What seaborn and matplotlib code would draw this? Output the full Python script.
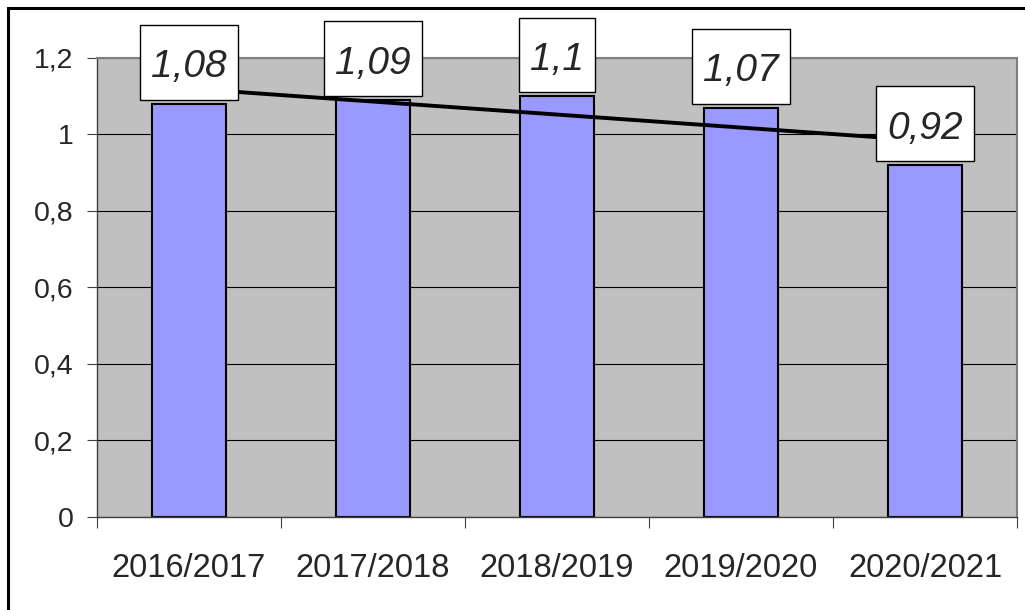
import numpy as np
import pandas as pd
import matplotlib
matplotlib.use("Agg")
import matplotlib.pyplot as plt
import seaborn as sns
from matplotlib.patches import Rectangle
from matplotlib.path import Path

# chart data
seasons = ["2016/2017", "2017/2018", "2018/2019", "2019/2020", "2020/2021"]
values = [1.08, 1.09, 1.1, 1.07, 0.92]
y_ticks = [0, 0.2, 0.4, 0.6, 0.8, 1.0, 1.2]
y_tick_labels = ["0", "0,2", "0,4", "0,6", "0,8", "1", "1,2"]

sns.set_style("white")
plt.rcParams["font.family"] = ["Liberation Sans", "DejaVu Sans"]


def label_box(x0, y0, width, height, mutation_size):
    # box with more room above the text than below, narrow at the sides
    px = 0.28 * mutation_size
    p_top = 0.62 * mutation_size
    p_bot = 0.37 * mutation_size
    x1, y1 = x0 + width + px, y0 + height + p_top
    x0, y0 = x0 - px, y0 - p_bot
    return Path([(x0, y0), (x1, y0), (x1, y1), (x0, y1), (x0, y0)], closed=True)


df = pd.DataFrame({"season": seasons, "value": values, "pos": np.arange(len(seasons))})

fig = plt.figure(figsize=(10.25, 6.10), dpi=100)
ax = fig.add_axes([0.0946, 0.1525, 0.8976, 0.7525])
ax.set_facecolor("#C0C0C0")
ax.set_axisbelow(True)

sns.barplot(data=df, x="season", y="value", color="#9999FF", saturation=1,
            edgecolor="black", linewidth=1.5, width=0.4, ax=ax, zorder=2)

# linear trend line over the bars
sns.regplot(data=df, x="pos", y="value", scatter=False, ci=None, truncate=True,
            line_kws={"color": "black", "lw": 2.8, "zorder": 3}, ax=ax)

for i, v in enumerate(values):
    lbl = f"{v:g}".replace(".", ",")
    ax.annotate(lbl, xy=(i, v), xytext=(0, 13.3), textcoords="offset points",
                ha="center", va="bottom", fontsize=28, style="italic", zorder=4,
                bbox=dict(boxstyle=label_box, fc="white", ec="black", lw=1))

ax.set_xlim(-0.5, len(seasons) - 0.5)
ax.set_ylim(0, 1.2)
ax.set_yticks(y_ticks)
ax.set_yticklabels(y_tick_labels, fontsize=20.5)
ax.yaxis.grid(True, color="black", lw=0.8)
ax.xaxis.grid(False)
ax.tick_params(axis="y", length=7, width=0.8, color="#404040", pad=10, left=True)
ax.tick_params(axis="x", which="major", length=0, pad=26, labelsize=23.5)
ax.set_xticks(np.arange(-0.5, len(seasons)), minor=True)
ax.tick_params(axis="x", which="minor", length=8, width=0.8, color="#404040", bottom=True)
ax.set_xlabel("")
ax.set_ylabel("")

for side in ["left", "bottom"]:
    ax.spines[side].set_color("#404040")
    ax.spines[side].set_linewidth(1)
for side in ["top", "right"]:
    ax.spines[side].set_color("#808080")
    ax.spines[side].set_linewidth(1.5)

# outer chart frame
fig.add_artist(Rectangle((0.0078, -0.1), 1.5, 1.087, transform=fig.transFigure,
                         fill=False, ec="black", lw=2.2))

fig.savefig("out.png", dpi=100)
